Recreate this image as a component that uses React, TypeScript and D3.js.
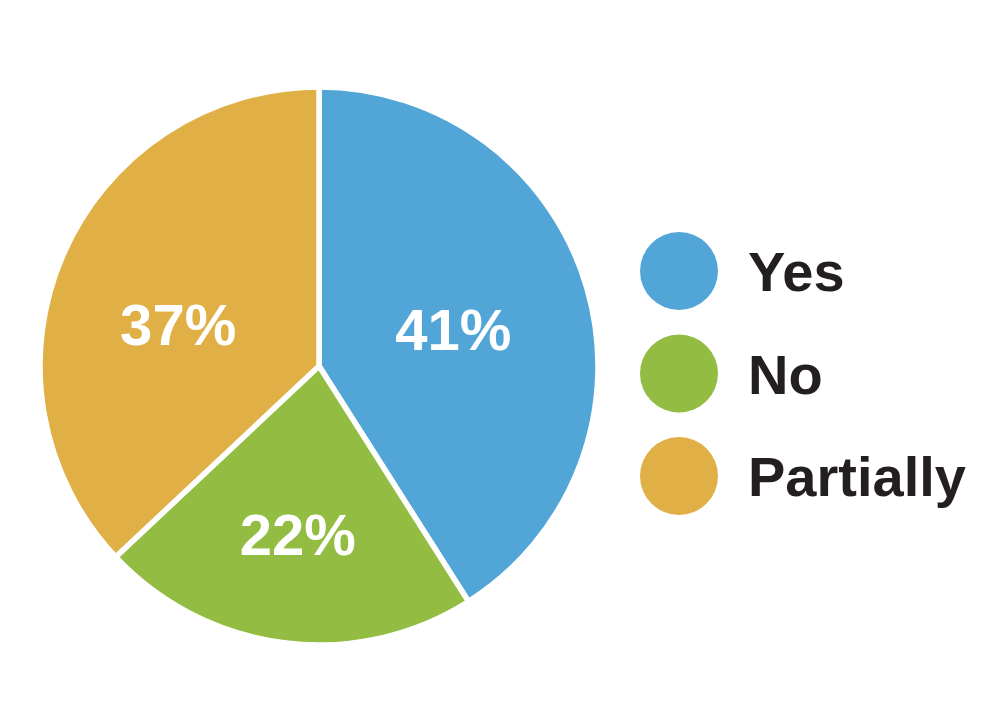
import React, { useRef, useEffect } from 'react';
import * as d3 from 'd3';

const categories = ['Yes', 'No', 'Partially'];
const shares = [41, 22, 37];
const colors = ['#52a6d7', '#92bc42', '#e0b047'];

// hand placement of the percentage labels, relative to the arc centroid
const labelNudge: [number, number][] = [[-13, 6], [-2, 16], [0, 19]];

const width = 1000;
const height = 727;
const fontFamily = '"Liberation Sans", Arial, sans-serif';

const App: React.FC = () => {
  const svgRef = useRef<SVGSVGElement | null>(null);

  useEffect(() => {
    const svg = d3.select(svgRef.current);
    svg.selectAll('*').remove();

    const radius = 279;
    const cx = 319;
    const cy = 366;

    const data = categories.map((c, i) => ({ name: c, value: shares[i], color: colors[i], i }));

    const pie = d3.pie<any>()
      .value((d: any) => d.value)
      .sort(null);

    const arc = d3.arc<any>().innerRadius(0).outerRadius(radius);
    const labelArc = d3.arc<any>().innerRadius(radius * 0.55).outerRadius(radius * 0.55);

    const g = svg.append('g').attr('transform', `translate(${cx},${cy})`);
    const arcs = pie(data);

    g.selectAll('path.slice')
      .data(arcs)
      .enter().append('path')
      .attr('class', 'slice')
      .attr('d', arc as any)
      .attr('fill', (d: any) => d.data.color)
      .attr('stroke', '#fff')
      .attr('stroke-width', 5.5)
      .attr('stroke-linejoin', 'round');

    g.selectAll('text.pct')
      .data(arcs)
      .enter().append('text')
      .attr('class', 'pct')
      .attr('transform', (d: any) => {
        const [x, y] = labelArc.centroid(d);
        const [nx, ny] = labelNudge[d.data.i];
        return `translate(${x + nx},${y + ny})`;
      })
      .attr('text-anchor', 'middle')
      .attr('dy', '0.36em')
      .attr('fill', '#fff')
      .attr('font-family', fontFamily)
      .attr('font-weight', 'bold')
      .attr('font-size', 58)
      .text((d: any) => `${d.data.value}%`);

    // legend
    const legendY = d3.scalePoint<string>()
      .domain(categories)
      .range([271, 476]);

    const legend = svg.append('g');
    const item = legend.selectAll('g.item')
      .data(data)
      .enter().append('g')
      .attr('class', 'item')
      .attr('transform', (d: any) => `translate(679,${legendY(d.name)})`);

    item.append('circle')
      .attr('r', 39)
      .attr('fill', (d: any) => d.color);

    item.append('text')
      .attr('x', 69)
      .attr('dy', '0.36em')
      .attr('fill', '#231f20')
      .attr('font-family', fontFamily)
      .attr('font-weight', 'bold')
      .attr('font-size', 56)
      .text((d: any) => d.name);
  }, []);

  return (
    <svg
      ref={svgRef}
      width={width}
      height={height}
      style={{ position: 'absolute', left: 0, top: 0, background: '#fff' }}
    ></svg>
  );
};

export default App;
